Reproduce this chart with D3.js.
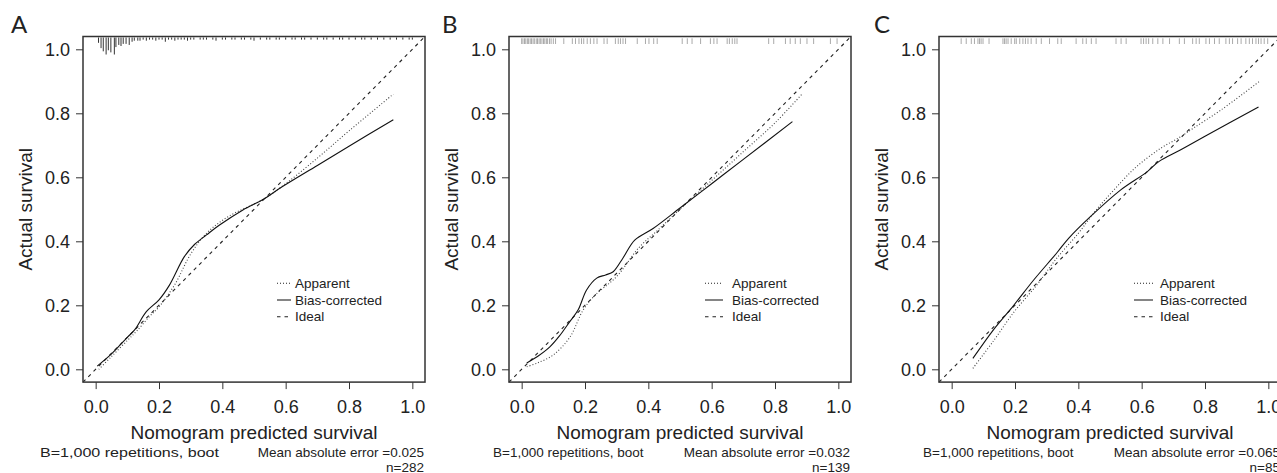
<!DOCTYPE html>
<html>
<head>
<meta charset="utf-8">
<script src="https://cdn.jsdelivr.net/npm/d3@7"></script>
<style>
  body { margin: 0; background: #fff; }
  text { font-family: "Liberation Sans", Arial, sans-serif; fill: #222; }
</style>
</head>
<body>
<svg id="chart" width="1277" height="473"></svg>
<script>
// ---- data ----
const panelLetters = ["A", "B", "C"];
const tickValues = [0, 0.2, 0.4, 0.6, 0.8, 1.0];
const seriesNames = ["Apparent", "Bias-corrected", "Ideal"];
const sampleSizes = [282, 139, 85];
const meanAbsErrors = ["0.025", "0.032", "0.065"];
const bootNote = "B=1,000 repetitions, boot";

// [predicted, actual]
const apparentA = [[0.01, 0.0], [0.05, 0.04], [0.1, 0.09], [0.13, 0.12], [0.17, 0.165], [0.2, 0.195],
  [0.25, 0.265], [0.3, 0.36], [0.35, 0.425], [0.42, 0.478], [0.527, 0.53], [0.6, 0.58],
  [0.7, 0.66], [0.8, 0.745], [0.94, 0.86]];
const biasA = [[0.005, 0.01], [0.05, 0.048], [0.1, 0.1], [0.123, 0.123], [0.16, 0.18], [0.2, 0.217],
  [0.233, 0.263], [0.28, 0.352], [0.312, 0.39], [0.35, 0.42], [0.39, 0.45], [0.465, 0.498],
  [0.527, 0.53], [0.59, 0.571], [0.7, 0.637], [0.8, 0.697], [0.94, 0.78]];

const apparentB = [[0.016, 0.008], [0.05, 0.02], [0.1, 0.045], [0.152, 0.1], [0.194, 0.185],
  [0.23, 0.23], [0.3, 0.29], [0.37, 0.38], [0.43, 0.435], [0.5, 0.5], [0.6, 0.59],
  [0.7, 0.68], [0.8, 0.77], [0.888, 0.863]];
const biasB = [[0.016, 0.02], [0.05, 0.04], [0.089, 0.07], [0.12, 0.105], [0.152, 0.149],
  [0.178, 0.185], [0.205, 0.248], [0.237, 0.285], [0.265, 0.295], [0.289, 0.305],
  [0.32, 0.348], [0.357, 0.404], [0.415, 0.44], [0.5, 0.504], [0.6, 0.58], [0.7, 0.656],
  [0.855, 0.774]];

const apparentC = [[0.067, 0.003], [0.133, 0.09], [0.196, 0.178], [0.27, 0.265], [0.33, 0.345],
  [0.4, 0.425], [0.45, 0.49], [0.512, 0.56], [0.58, 0.63], [0.659, 0.69], [0.72, 0.725],
  [0.764, 0.754], [0.85, 0.81], [0.975, 0.902]];
const biasC = [[0.067, 0.034], [0.133, 0.125], [0.196, 0.2], [0.259, 0.279], [0.333, 0.365],
  [0.37, 0.41], [0.438, 0.477], [0.533, 0.56], [0.617, 0.617], [0.654, 0.649], [0.722, 0.685],
  [0.8, 0.728], [0.969, 0.82]];

// rug of predicted values: A as [value, count], B and C as values
const rugA = [[0.009, 5], [0.017, 10], [0.024, 13], [0.033, 16], [0.040, 12], [0.048, 14],
  [0.059, 16], [0.064, 9], [0.073, 7], [0.080, 8], [0.087, 6], [0.096, 6], [0.106, 7],
  [0.115, 4], [0.122, 3], [0.133, 3], [0.14, 3], [0.15, 2], [0.16, 3], [0.17, 2], [0.18, 2],
  [0.19, 3], [0.20, 2], [0.21, 2], [0.22, 4], [0.23, 2], [0.24, 2], [0.25, 3], [0.26, 2],
  [0.27, 2], [0.28, 2], [0.29, 3], [0.30, 2], [0.31, 2], [0.33, 2], [0.34, 2], [0.35, 2],
  [0.37, 2], [0.38, 3], [0.40, 2], [0.41, 2], [0.43, 2], [0.44, 2], [0.46, 2], [0.47, 2],
  [0.49, 2], [0.50, 3], [0.52, 2], [0.54, 2], [0.55, 2], [0.57, 2], [0.58, 2], [0.60, 2],
  [0.62, 2], [0.63, 2], [0.65, 2], [0.66, 2], [0.68, 2], [0.70, 2], [0.72, 2], [0.73, 2],
  [0.75, 2], [0.77, 2], [0.78, 2], [0.80, 2], [0.82, 2], [0.84, 2], [0.85, 2], [0.87, 2],
  [0.89, 2], [0.91, 2], [0.93, 2], [0.95, 2], [0.97, 2], [0.99, 2], [1.0, 2]];
const rugB = [0.0, 0.004, 0.009, 0.013, 0.018, 0.022, 0.027, 0.031, 0.036, 0.04, 0.046, 0.05,
  0.055, 0.059, 0.064, 0.069, 0.073, 0.078, 0.082, 0.088, 0.093, 0.1, 0.107, 0.133,
  0.16, 0.17, 0.181, 0.189, 0.196, 0.207, 0.217, 0.228, 0.238, 0.26, 0.27,
  0.296, 0.305, 0.312, 0.32, 0.328, 0.365, 0.391, 0.402, 0.417, 0.428,
  0.507, 0.523, 0.538, 0.565, 0.596, 0.607, 0.617, 0.649, 0.656, 0.665, 0.673, 0.68,
  0.78, 0.796, 0.833, 0.848, 0.864, 0.88, 0.901, 0.922, 0.975, 0.996];
const rugC = [0.03, 0.046, 0.062, 0.072, 0.083, 0.088, 0.093, 0.099, 0.118,
  0.162, 0.167, 0.172, 0.178, 0.188, 0.199, 0.204, 0.215, 0.225, 0.233, 0.241, 0.251,
  0.267, 0.283, 0.309, 0.335, 0.346, 0.393, 0.414, 0.425, 0.441, 0.456, 0.519, 0.535, 0.551,
  0.598, 0.606, 0.614, 0.622, 0.635, 0.651, 0.667, 0.688, 0.719, 0.735, 0.761, 0.772, 0.782,
  0.803, 0.814, 0.83, 0.845, 0.866, 0.877, 0.887, 0.903, 0.914, 0.929, 0.94, 0.95, 0.961,
  0.969, 0.977, 0.987, 0.998];

// ---- layout ----
const svg = d3.select("#chart");
const boxW = 342, boxH = 345.6, boxTop = 36.5;
const panels = [
  {left: 83, letterX: 11, apparent: apparentA, bias: biasA, rug: rugA.map(d => d[0]), counts: rugA.map(d => d[1]),
   legend: [194, 208, 212], note: {x: -43, width: 179}},
  {left: 509, letterX: 442, apparent: apparentB, bias: biasB, rug: rugB, counts: null,
   legend: [196, 214, 223], note: {x: -16, width: null}},
  {left: 939, letterX: 874, apparent: apparentC, bias: biasC, rug: rugC, counts: null,
   legend: [195, 214, 221], note: {x: -16, width: null}}
];

function draw_panel(p, i) {
  let x = d3.scaleLinear().domain([-0.04, 1.04]).range([0, boxW]);
  let y = d3.scaleLinear().domain([-0.04, 1.04]).range([boxH, 0]);
  let g = svg.append("g").attr("transform", `translate(${p.left},${boxTop})`);

  svg.append("text")
    .attr("x", p.letterX).attr("y", 33)
    .style("font-family", "Lato, 'Open Sans', sans-serif")
    .style("font-size", "24px")
    .text(panelLetters[i]);

  // axes
  g.append("g")
    .call(d3.axisLeft(y).tickValues(tickValues).tickFormat(d3.format(".1f")).tickSize(7).tickPadding(6))
    .call(a => a.select(".domain").remove())
    .call(a => a.selectAll("line").attr("stroke", "#333"))
    .call(a => a.selectAll("text").style("font-size", "18px").style("fill", "#222"));
  g.append("g")
    .attr("transform", `translate(0,${boxH})`)
    .call(d3.axisBottom(x).tickValues(tickValues).tickFormat(d3.format(".1f")).tickSize(7).tickPadding(11))
    .call(a => a.select(".domain").remove())
    .call(a => a.selectAll("line").attr("stroke", "#333"))
    .call(a => a.selectAll("text").style("font-size", "18px").style("fill", "#222"));

  // rug along the top
  let len = d3.scaleLinear().domain([0, 16]).range([0, 17]);
  g.append("g")
    .selectAll("line")
    .data(p.rug).enter()
    .append("line")
    .attr("x1", d => x(d)).attr("x2", d => x(d))
    .attr("y1", p.counts ? 1 : 1.8)
    .attr("y2", (d, j) => p.counts ? 1 + len(p.counts[j]) : 7.5)
    .attr("stroke", p.counts ? "#333" : "#aaa")
    .attr("stroke-width", 1);

  // ideal line
  g.append("line")
    .attr("x1", x(-0.04)).attr("y1", y(-0.04))
    .attr("x2", x(1.04)).attr("y2", y(1.04))
    .attr("stroke", "#222").attr("stroke-width", 1.1)
    .attr("stroke-dasharray", "3.5,4");

  let line = d3.line().x(d => x(d[0])).y(d => y(d[1])).curve(d3.curveCatmullRom.alpha(0.5));
  g.append("path").datum(p.apparent)
    .attr("d", line).attr("fill", "none")
    .attr("stroke", "#444").attr("stroke-width", 1.1)
    .attr("stroke-dasharray", "1,2");
  g.append("path").datum(p.bias)
    .attr("d", line).attr("fill", "none")
    .attr("stroke", "#111").attr("stroke-width", 1.1);

  // frame
  g.append("rect")
    .attr("width", boxW).attr("height", boxH)
    .attr("fill", "none").attr("stroke", "#333").attr("stroke-width", 1.5);

  // legend
  let [l0, l1, tx] = p.legend;
  let dashes = ["1,2", null, "3.5,4"];
  seriesNames.forEach((name, k) => {
    let ry = 283.3 - boxTop + k * 16.7;
    g.append("line")
      .attr("x1", l0).attr("x2", l1).attr("y1", ry).attr("y2", ry)
      .attr("stroke", "#222").attr("stroke-width", 1.1)
      .attr("stroke-dasharray", dashes[k]);
    g.append("text")
      .attr("x", tx).attr("y", ry).attr("dy", "0.35em")
      .style("font-size", "13.5px")
      .text(name);
  });

  // axis titles
  g.append("text")
    .attr("x", boxW / 2).attr("y", 439 - boxTop)
    .attr("text-anchor", "middle")
    .style("font-size", "19px")
    .text("Nomogram predicted survival");
  g.append("text")
    .attr("transform", `translate(-51,${boxH / 2})rotate(-90)`)
    .attr("text-anchor", "middle")
    .style("font-size", "19px")
    .text("Actual survival");

  // footnotes
  let note = g.append("text")
    .attr("x", p.note.x).attr("y", 457 - boxTop)
    .style("font-size", "13.5px")
    .text(bootNote);
  if (p.note.width) note.attr("textLength", p.note.width).attr("lengthAdjust", "spacingAndGlyphs");
  g.append("text")
    .attr("x", boxW - 1).attr("y", 457 - boxTop)
    .attr("text-anchor", "end")
    .style("font-size", "13.5px")
    .text("Mean absolute error =" + meanAbsErrors[i]);
  g.append("text")
    .attr("x", boxW - 1).attr("y", 471.5 - boxTop)
    .attr("text-anchor", "end")
    .style("font-size", "13.5px")
    .text("n=" + sampleSizes[i]);
}

panels.forEach(draw_panel);
</script>
</body>
</html>
